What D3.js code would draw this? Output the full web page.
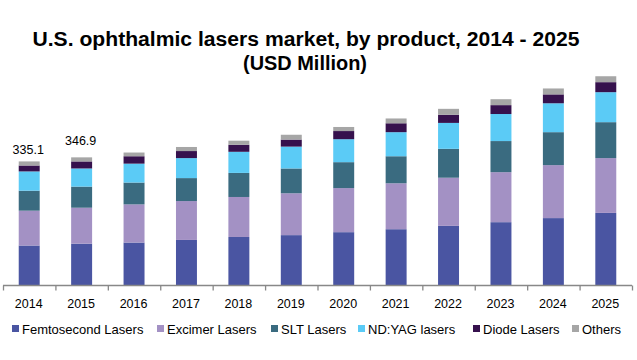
<!DOCTYPE html>
<html>
<head>
<meta charset="utf-8">
<script src="https://cdn.jsdelivr.net/npm/d3@7"></script>
<style>
  body { margin: 0; background: #fff; }
  text { font-family: "Liberation Sans", Arial, sans-serif; }
</style>
</head>
<body>
<script>
var svgWidth = 637;
var svgHeight = 360;

// data (USD Million)
var years = ["2014", "2015", "2016", "2017", "2018", "2019", "2020", "2021", "2022", "2023", "2024", "2025"];
var femtosecond = [108, 113, 116, 123, 131, 136, 144, 152, 161, 171, 182, 196];
var excimer = [94, 97, 103, 105, 108, 113, 119, 124, 130, 135, 143, 148];
var slt = [54, 57, 59, 62, 65, 67, 70, 73, 78, 84, 89, 97];
var ndyag = [52, 49, 51, 54, 57, 59, 62, 65, 70, 73, 78, 81];
var diode = [16, 19, 20, 19, 19, 19, 22, 24, 22, 24, 24, 27];
var others = [11, 11, 10, 11, 11, 13, 11, 13, 16, 16, 16, 16];
var seriesNames = ["Femtosecond Lasers", "Excimer Lasers", "SLT Lasers", "ND:YAG lasers", "Diode Lasers", "Others"];
var totalLabels = [{ year: "2014", text: "335.1", dy: -7 }, { year: "2015", text: "346.9", dy: -12 }];

var colors = ["#4a55a2", "#a391c4", "#3a6b80", "#5bcbf6", "#36114d", "#a6a6a6"];
var seriesValues = [femtosecond, excimer, slt, ndyag, diode, others];

var table = years.map(function(y, i) {
  var row = { year: y };
  seriesNames.forEach(function(name, j) { row[name] = seriesValues[j][i]; });
  return row;
});

var svg = d3.select("body")
  .append("svg")
  .attr("width", svgWidth)
  .attr("height", svgHeight);

// title
var title = svg.append("text")
  .attr("text-anchor", "middle")
  .attr("font-weight", "bold")
  .attr("font-size", 20)
  .attr("fill", "#000");
title.append("tspan").attr("x", 306).attr("y", 46)
  .attr("textLength", 547).attr("lengthAdjust", "spacingAndGlyphs")
  .text("U.S. ophthalmic lasers market, by product, 2014 - 2025");
title.append("tspan").attr("x", 305).attr("y", 70)
  .attr("textLength", 124).attr("lengthAdjust", "spacingAndGlyphs")
  .text("(USD Million)");

var baseY = 285.5;
var xScale = d3.scaleBand()
  .domain(years)
  .range([3, 632])
  .paddingInner(0.6)
  .paddingOuter(0.3);

var yScale = d3.scaleLinear()
  .domain([0, 600])
  .range([baseY, baseY - 600 / 2.7]);

var stacked = d3.stack().keys(seriesNames)(table);

var layers = svg.append("g")
  .selectAll("g")
  .data(stacked)
  .enter()
  .append("g")
  .attr("fill", function(d, i) { return colors[i]; });

layers.selectAll("rect")
  .data(function(d) { return d; })
  .enter()
  .append("rect")
  .attr("x", function(d) { return xScale(d.data.year); })
  .attr("width", xScale.bandwidth())
  .attr("y", function(d) { return yScale(d[1]); })
  .attr("height", function(d) { return yScale(d[0]) - yScale(d[1]); });

// x axis
var step = xScale.step();
var axisG = svg.append("g");
axisG.append("line")
  .attr("x1", 3).attr("x2", 632)
  .attr("y1", baseY).attr("y2", baseY)
  .attr("stroke", "#888").attr("stroke-width", 1.3);
axisG.selectAll(".tick")
  .data(d3.range(years.length + 1))
  .enter()
  .append("line")
  .attr("x1", function(i) { return 3.5 + i * step; })
  .attr("x2", function(i) { return 3.5 + i * step; })
  .attr("y1", baseY).attr("y2", baseY + 5)
  .attr("stroke", "#888").attr("stroke-width", 1.3);
axisG.selectAll(".lbl")
  .data(years)
  .enter()
  .append("text")
  .attr("x", function(d) { return xScale(d) + xScale.bandwidth() / 2 - 0.5; })
  .attr("y", 308)
  .attr("text-anchor", "middle")
  .attr("font-size", 12.5)
  .attr("fill", "#000")
  .text(function(d) { return d; });

// total labels
var totals = {};
table.forEach(function(r) {
  totals[r.year] = d3.sum(seriesNames, function(n) { return r[n]; });
});
svg.selectAll(".total")
  .data(totalLabels)
  .enter()
  .append("text")
  .attr("x", function(d) { return xScale(d.year) + xScale.bandwidth() / 2 - 1; })
  .attr("y", function(d) { return yScale(totals[d.year]) + d.dy; })
  .attr("text-anchor", "middle")
  .attr("font-size", 12.5)
  .attr("fill", "#000")
  .text(function(d) { return d.text; });

// legend
var legendX = [12, 157, 271, 358, 473, 572];
var legend = svg.append("g")
  .selectAll("g")
  .data(seriesNames)
  .enter()
  .append("g")
  .attr("transform", function(d, i) { return "translate(" + legendX[i] + ",329)"; });
legend.append("rect")
  .attr("x", 0).attr("y", -4)
  .attr("width", 7).attr("height", 7)
  .attr("fill", function(d, i) { return colors[i]; });
legend.append("text")
  .attr("x", 10)
  .attr("y", 4.5)
  .attr("font-size", 13)
  .attr("fill", "#000")
  .text(function(d) { return d; });
</script>
</body>
</html>
